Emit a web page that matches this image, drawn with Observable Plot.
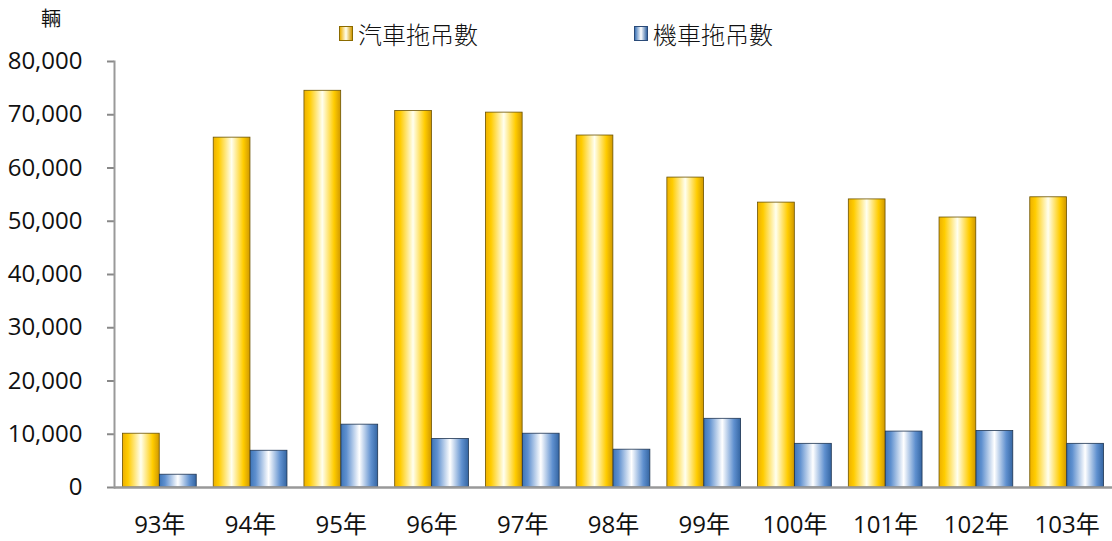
<!DOCTYPE html>
<html><head><meta charset="utf-8">
<script src="https://cdn.jsdelivr.net/npm/d3@7"></script>
<script src="https://cdn.jsdelivr.net/npm/@observablehq/plot@0.6"></script>
<style>
body{margin:0;background:#fff;font-family:"Open Sans","Noto Sans CJK TC",sans-serif;}
#wrap{position:relative;width:1112px;height:541px;}
.lg{position:absolute;font-size:24px;color:#111;display:flex;align-items:center;top:16px;font-family:"Noto Sans CJK TC",sans-serif;font-weight:300;}
.sw{width:14px;height:15px;margin-right:5px;border:1px solid #7a6000;box-sizing:border-box;}
</style></head><body>
<div id="wrap"></div>
<script>
const years = ["93年","94年","95年","96年","97年","98年","99年","100年","101年","102年","103年"];
const carTows = [10100,65700,74500,70700,70400,66100,58200,53500,54100,50700,54500];
const motoTows = [2400,6900,11800,9100,10100,7100,12900,8200,10500,10600,8200];
const seriesNames = ["汽車拖吊數","機車拖吊數"];
const yTicks = [0,10000,20000,30000,40000,50000,60000,70000,80000];
const unitLabel = "輛";

const carData = years.map((y,i)=>({year:y,value:carTows[i]}));
const motoData = years.map((y,i)=>({year:y,value:motoTows[i]}));

const defs = () => {
  const g = d3.create("svg:defs");
  const mk = (id, stops) => {
    const lg = g.append("linearGradient").attr("id", id).attr("x1","0").attr("x2","1").attr("y1","0").attr("y2","0");
    stops.forEach(([o,c]) => lg.append("stop").attr("offset", o).attr("stop-color", c));
  };
  mk("carGrad", [["0%","#EDB000"],["15%","#FFCC00"],["50%","#FFFFF0"],["82%","#FFCC00"],["100%","#D09800"]]);
  mk("motoGrad", [["0%","#3F76B8"],["15%","#5F90CF"],["50%","#FFFFFF"],["82%","#5F90CF"],["100%","#3465A2"]]);
  return g.node();
};

const font = '"Open Sans","Noto Sans CJK TC",sans-serif';
const plot = Plot.plot({
  width: 1112,
  height: 541,
  marginTop: 61,
  marginBottom: 54,
  marginLeft: 114,
  marginRight: 0,
  style: {fontFamily: font, fontSize: "24px", color: "#111", background: "#fff"},
  x: {domain: years, padding: 0, round: false, label: null},
  y: {domain: [0, 80000], label: null},
  marks: [
    defs,
    Plot.barY(carData, {x: "year", y: "value", fill: "url(#carGrad)", stroke: "#6b5300", strokeWidth: 0.8, insetLeft: 8.5, insetRight: 45.5}),
    Plot.barY(motoData, {x: "year", y: "value", fill: "url(#motoGrad)", stroke: "#1f3552", strokeWidth: 0.8, insetLeft: 45.5, insetRight: 8.5}),
    Plot.axisY({ticks: yTicks, tickFormat: d3.format(","), tickSize: 7, tickPadding: 25, stroke: "#888", strokeWidth: 2, strokeOpacity: 1, fontSize: 24, fill: "#111"}),
    Plot.frame({anchor: "left", stroke: "#999", strokeWidth: 2}),
    Plot.ruleY([0], {stroke: "#999", strokeWidth: 2.5}),
    Plot.axisX({tickSize: 0, tickPadding: 28, fontSize: 24, fill: "#111"})
  ]
});
const wrap = document.getElementById("wrap");
plot.style.position = "absolute"; plot.style.left = "0"; plot.style.top = "0";
wrap.appendChild(plot);

const unit = document.createElement("div");
unit.textContent = unitLabel;
unit.style.cssText = "position:absolute;left:41px;top:3px;font-size:20px;color:#111;font-family:'Noto Sans CJK TC',sans-serif;";
wrap.appendChild(unit);

const lgPos = [339, 634];
const lgGrad = ["linear-gradient(90deg,#EDB000,#FFFFF0,#D09800)","linear-gradient(90deg,#3F76B8,#FFFFFF,#3465A2)"];
const lgBorder = ["#8a6a00","#2a4a78"];
seriesNames.forEach((n,i)=>{
  const d = document.createElement("div");
  d.className = "lg";
  d.style.left = lgPos[i] + "px";
  d.innerHTML = `<span class="sw" style="background:${lgGrad[i]};border-color:${lgBorder[i]}"></span><span>${n}</span>`;
  wrap.appendChild(d);
});
</script>
</body></html>
